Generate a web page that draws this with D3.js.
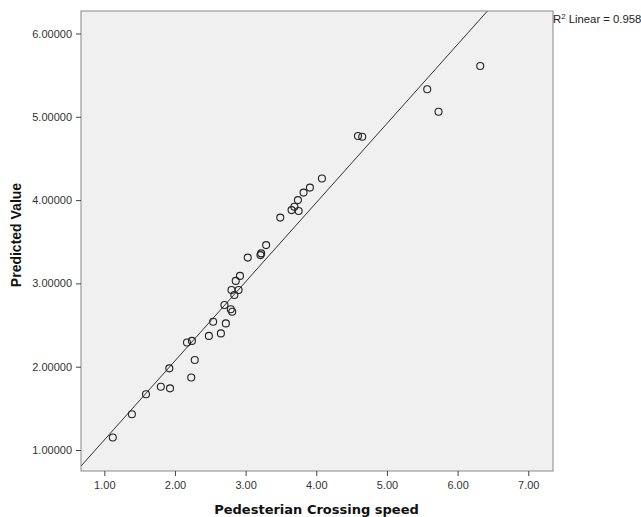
<!DOCTYPE html>
<html>
<head>
<meta charset="UTF-8">
<script src="https://d3js.org/d3.v7.min.js"></script>
<style>
  body { margin: 0; background: #fff; }
  svg text { font-family: "Liberation Sans", Arial, sans-serif; }
</style>
</head>
<body>
<svg width="641" height="517"></svg>
<script>
// observed speed (x) and predicted value (y)
const speed = [1.12, 1.39, 1.59, 1.80, 1.93, 1.92, 2.23, 2.28, 2.17, 2.24,
               2.48, 2.65, 2.54, 2.72, 2.70, 2.79, 2.81, 2.84, 2.80, 2.90,
               2.86, 2.92, 3.03, 3.21, 3.22, 3.29, 3.49, 3.65, 3.69, 3.75,
               3.74, 3.82, 3.91, 4.08, 4.59, 4.65, 5.57, 5.73, 6.32];
const predicted = [1.15, 1.43, 1.67, 1.76, 1.74, 1.98, 1.87, 2.08, 2.29, 2.31,
                   2.37, 2.40, 2.54, 2.52, 2.74, 2.69, 2.66, 2.86, 2.92, 2.92,
                   3.03, 3.09, 3.31, 3.34, 3.36, 3.46, 3.79, 3.88, 3.92, 3.87,
                   4.00, 4.09, 4.15, 4.26, 4.77, 4.76, 5.33, 5.06, 5.61];
const xTicks = [1, 2, 3, 4, 5, 6, 7];
const yTicks = [1, 2, 3, 4, 5, 6];
const rsqLabel = "0.958";

const svg = d3.select("svg");
const pLeft = 81, pRight = 553, pTop = 11, pBottom = 471;

const x = d3.scaleLinear().domain([0.67, 7.35]).range([pLeft, pRight]);
const y = d3.scaleLinear().domain([0.748, 6.27]).range([pBottom, pTop]);

// plot background
svg.append("rect")
  .attr("x", pLeft).attr("y", pTop)
  .attr("width", pRight - pLeft).attr("height", pBottom - pTop)
  .attr("fill", "#f0f0f0");

svg.append("clipPath").attr("id", "clip")
  .append("rect")
  .attr("x", pLeft).attr("y", pTop)
  .attr("width", pRight - pLeft).attr("height", pBottom - pTop);

// least squares fit
const n = speed.length;
const mx = d3.mean(speed), my = d3.mean(predicted);
let sxy = 0, sxx = 0;
for (let i = 0; i < n; i++) {
  sxy += (speed[i] - mx) * (predicted[i] - my);
  sxx += (speed[i] - mx) ** 2;
}
const b = sxy / sxx, a = my - b * mx;
const [x0, x1] = x.domain();

svg.append("line")
  .attr("clip-path", "url(#clip)")
  .attr("x1", x(x0)).attr("y1", y(a + b * x0))
  .attr("x2", x(x1)).attr("y2", y(a + b * x1))
  .attr("stroke", "#333").attr("stroke-width", 1);

// points
svg.append("g").selectAll("circle")
  .data(speed.map((s, i) => [s, predicted[i]]))
  .enter().append("circle")
  .attr("cx", d => x(d[0]))
  .attr("cy", d => y(d[1]))
  .attr("r", 3.5)
  .attr("fill", "none")
  .attr("stroke", "#222")
  .attr("stroke-width", 1.1);

// frame
svg.append("rect")
  .attr("x", pLeft).attr("y", pTop)
  .attr("width", pRight - pLeft).attr("height", pBottom - pTop)
  .attr("fill", "none").attr("stroke", "#888");

// axes
const xAxis = svg.append("g")
  .attr("transform", `translate(0,${pBottom})`)
  .call(d3.axisBottom(x).tickValues(xTicks).tickFormat(d3.format(".2f")).tickSize(5).tickSizeOuter(0));
const yAxis = svg.append("g")
  .attr("transform", `translate(${pLeft},0)`)
  .call(d3.axisLeft(y).tickValues(yTicks).tickFormat(d3.format(".5f")).tickSize(5).tickSizeOuter(0));

[xAxis, yAxis].forEach(g => {
  g.select(".domain").remove();
  g.selectAll(".tick line").attr("stroke", "#444");
  g.selectAll(".tick text")
    .attr("font-family", "Liberation Sans, Arial, sans-serif")
    .attr("font-size", 11).attr("fill", "#333");
});
xAxis.selectAll(".tick text").attr("dy", "0.9em");
yAxis.selectAll(".tick text").attr("dx", "-1px");

// titles
svg.append("text")
  .attr("x", 316.5).attr("y", 514)
  .attr("text-anchor", "middle")
  .style("font-family", "'DejaVu Sans', Verdana, sans-serif")
  .attr("font-size", 13).attr("font-weight", "bold").attr("fill", "#111")
  .text("Pedesterian Crossing speed");

svg.append("text")
  .attr("transform", "translate(21,235) rotate(-90)")
  .attr("text-anchor", "middle")
  .attr("font-size", 14).attr("font-weight", "bold").attr("fill", "#111")
  .text("Predicted Value");

// R² label
const r2 = svg.append("text")
  .attr("x", pRight).attr("y", 23)
  .attr("font-size", 11.3).attr("fill", "#222");
r2.append("tspan").text("R");
r2.append("tspan").attr("font-size", 8).attr("dy", -4).text("2");
r2.append("tspan").attr("dy", 4).text(" Linear = " + rsqLabel);
</script>
</body>
</html>
